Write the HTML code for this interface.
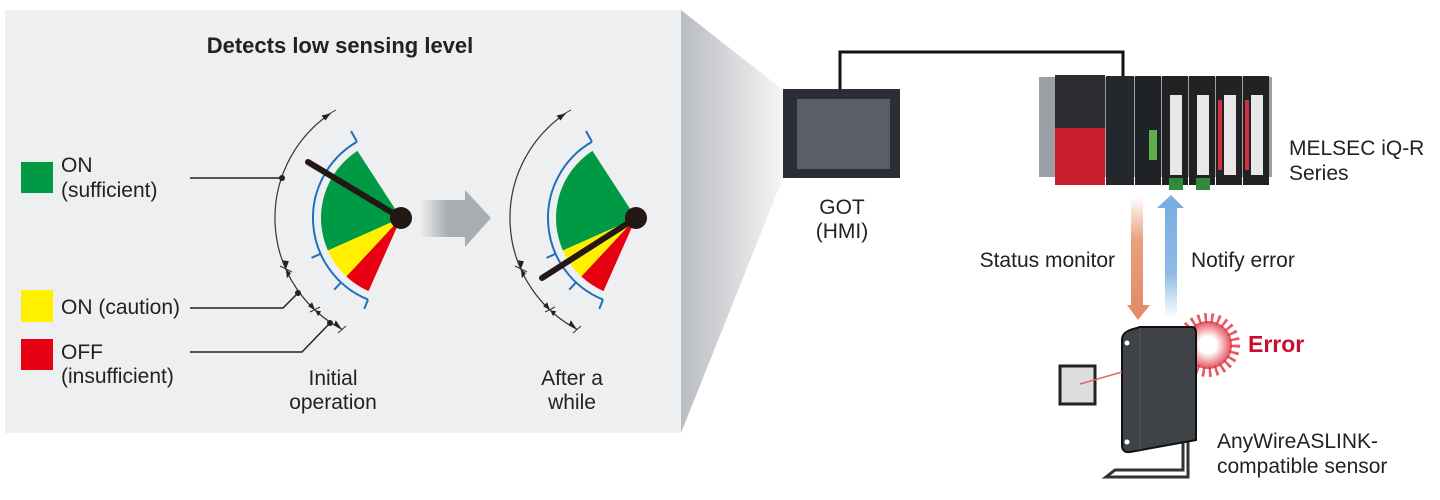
<!DOCTYPE html>
<html><head><meta charset="utf-8"><style>
body{margin:0;width:1440px;height:500px;background:#fff;overflow:hidden}
svg{display:block}
text{font-family:"Liberation Sans",Arial,sans-serif;fill:#222}
</style></head><body>
<svg width="1440" height="500" viewBox="0 0 1440 500">
<defs>
<linearGradient id="trap" x1="0" x2="1"><stop offset="0" stop-color="#b9bcc0"/><stop offset="1" stop-color="#f4f5f6"/></linearGradient>
<linearGradient id="garr" x1="0" x2="1"><stop offset="0" stop-color="#eeeff0"/><stop offset="0.6" stop-color="#a9adb2"/></linearGradient>
<linearGradient id="org" x1="0" y1="0" x2="0" y2="1"><stop offset="0" stop-color="#fff"/><stop offset="0.4" stop-color="#e9a07c"/><stop offset="1" stop-color="#e48d68"/></linearGradient>
<linearGradient id="blu" x1="0" y1="0" x2="0" y2="1"><stop offset="0" stop-color="#7aaee0"/><stop offset="0.6" stop-color="#8fbbe6"/><stop offset="1" stop-color="#fff"/></linearGradient>
<radialGradient id="burst"><stop offset="0.35" stop-color="#fff"/><stop offset="1" stop-color="#e0303c"/></radialGradient>
<g id="gauge">
<path d="M401,218 L327.9,250.5 A80,80 0 0 1 357.4,150.9 Z" fill="#009a44"/>
<path d="M401,218 L346.4,276.5 A80,80 0 0 1 327.9,250.5 Z" fill="#fff000"/>
<path d="M401,218 L368.5,291.1 A80,80 0 0 1 346.4,276.5 Z" fill="#e60012"/>
<path d="M368,299.6 A88,88 0 0 1 357,141.8" fill="none" stroke="#1f6fbf" stroke-width="2"/>
<path d="M357,141.8 L351,131 M320.6,253.8 L311.5,257.9 M341,282.4 L334.2,289.7 M368,299.6 L364.3,308.9" stroke="#1f6fbf" stroke-width="2"/>
<path d="M341.8,329.2 A126,126 0 0 1 330.5,113.5" fill="none" stroke="#333" stroke-width="1.2"/>
<path d="M330.5,113.5 l-9,2 l4,5 z M285.9,269.2 l-3,-9 l6,1z M285.9,269.2 l1,9 l4,-5z M315.1,310.2 l-7,-4 l4,-4z M315.1,310.2 l3,6 l3,-5z M341.8,329.2 l-8,-4 l2,-5z" fill="#222"/>
<path d="M280,266 L292,272 M310,312 L320,307 M327,115 L336,110 M338,333 L346,326" stroke="#333" stroke-width="1"/>
<circle cx="401" cy="218" r="11" fill="#231815"/>
</g>
</defs>
<rect x="5" y="10" width="676" height="423" fill="#eeeff0"/>
<polygon points="681,10 783,90 783,178 681,433" fill="url(#trap)"/>
<text x="340" y="53" text-anchor="middle" font-size="22" font-weight="bold">Detects low sensing level</text>
<use href="#gauge"/>
<line x1="401" y1="218" x2="308" y2="162" stroke="#231815" stroke-width="6" stroke-linecap="round"/>
<g transform="translate(235,0)"><use href="#gauge"/></g>
<line x1="636" y1="218" x2="542" y2="278" stroke="#231815" stroke-width="6" stroke-linecap="round"/>
<rect x="420" y="200" width="46" height="37" fill="url(#garr)"/>
<polygon points="465,190 491,218 465,247" fill="#a9adb2"/>
<rect x="21" y="162" width="32" height="31" fill="#009a44"/>
<rect x="21" y="290" width="32" height="32" fill="#fff000"/>
<rect x="21" y="339" width="32" height="31" fill="#e60012"/>
<g font-size="21"><text x="61" y="172">ON</text><text x="61" y="197">(sufficient)</text>
<text x="61" y="314">ON (caution)</text><text x="61" y="359">OFF</text><text x="61" y="383">(insufficient)</text>
<text x="333" y="385" text-anchor="middle">Initial</text><text x="333" y="409" text-anchor="middle">operation</text>
<text x="572" y="385" text-anchor="middle">After a</text><text x="572" y="409" text-anchor="middle">while</text></g>
<path d="M190,178 H282 M190,308 H283 L298,293 M190,352 H302 L330,323" fill="none" stroke="#222" stroke-width="1.5"/>
<circle cx="282" cy="178" r="3" fill="#222"/><circle cx="298" cy="293" r="3" fill="#222"/><circle cx="330" cy="323" r="3" fill="#222"/>
<!-- right -->
<path d="M840,90 V52 H1123 V76" fill="none" stroke="#111" stroke-width="3"/>
<rect x="783" y="89" width="117" height="89" fill="#2b2e34"/>
<rect x="797" y="99" width="93" height="70" fill="#5b5e64"/>
<g font-size="21"><text x="842" y="214" text-anchor="middle">GOT</text><text x="842" y="238" text-anchor="middle">(HMI)</text>
<text x="1289" y="155">MELSEC iQ-R</text><text x="1289" y="180">Series</text>
<text x="1115" y="267" text-anchor="end">Status monitor</text><text x="1191" y="267">Notify error</text>
<text x="1217" y="448">AnyWireASLINK-</text><text x="1217" y="473">compatible sensor</text></g>
<rect x="1039" y="77" width="233" height="100" fill="#9c9fa3"/>
<rect x="1055" y="75" width="50" height="110" fill="#2a2c30"/>
<rect x="1055" y="128" width="50" height="57" fill="#c8202c"/>
<rect x="1106" y="76" width="28" height="109" fill="#24272b"/>
<rect x="1135" y="76" width="26" height="109" fill="#1f2226"/>
<rect x="1149" y="130" width="8" height="30" fill="#5fae4a"/>
<g fill="#222"><rect x="1162" y="76" width="26" height="109"/><rect x="1189" y="76" width="26" height="109"/><rect x="1216" y="76" width="26" height="109"/><rect x="1243" y="76" width="26" height="109"/></g>
<g fill="#e8e8e8"><rect x="1170" y="95" width="12" height="80"/><rect x="1197" y="95" width="12" height="80"/><rect x="1224" y="95" width="12" height="80"/><rect x="1251" y="95" width="12" height="80"/></g>
<g fill="#d23040"><rect x="1218" y="100" width="4" height="70"/><rect x="1245" y="100" width="4" height="70"/></g>
<rect x="1169" y="178" width="14" height="12" fill="#2f8a3e"/><rect x="1196" y="178" width="14" height="12" fill="#2f8a3e"/>
<rect x="1131" y="197" width="12" height="108" fill="url(#org)"/>
<polygon points="1127,305 1150,305 1138,320" fill="#e48d68"/>
<rect x="1165" y="207" width="12" height="111" fill="url(#blu)"/>
<polygon points="1157,208 1184,208 1171,195" fill="#7aaee0"/>
<circle cx="1208" cy="345" r="24" fill="url(#burst)" opacity="0.85"/>
<circle cx="1208" cy="345" r="27" fill="none" stroke="#e0303c" stroke-width="10" stroke-dasharray="2.5 4" opacity="0.8"/>
<text x="1248" y="352" font-size="23" font-weight="bold" style="fill:#c8102e">Error</text>
<path d="M1183,440 V470 H1115 L1106,477 H1188 V440" fill="none" stroke="#333" stroke-width="3"/>
<path d="M1122,340 Q1122,333 1130,330 L1140,327 H1192 Q1196,327 1196,333 V440 L1130,452 Q1122,453 1122,445 Z" fill="#3f4246" stroke="#111" stroke-width="2"/>
<path d="M1140,328 V450" stroke="#55585c" stroke-width="1"/>
<circle cx="1127" cy="343" r="2.5" fill="#fff"/><circle cx="1127" cy="442" r="2.5" fill="#fff"/>
<rect x="1060" y="366" width="35" height="38" fill="#ddd" stroke="#222" stroke-width="3"/>
<line x1="1080" y1="384" x2="1122" y2="372" stroke="#d66" stroke-width="1.5"/>
</svg>
</body></html>
